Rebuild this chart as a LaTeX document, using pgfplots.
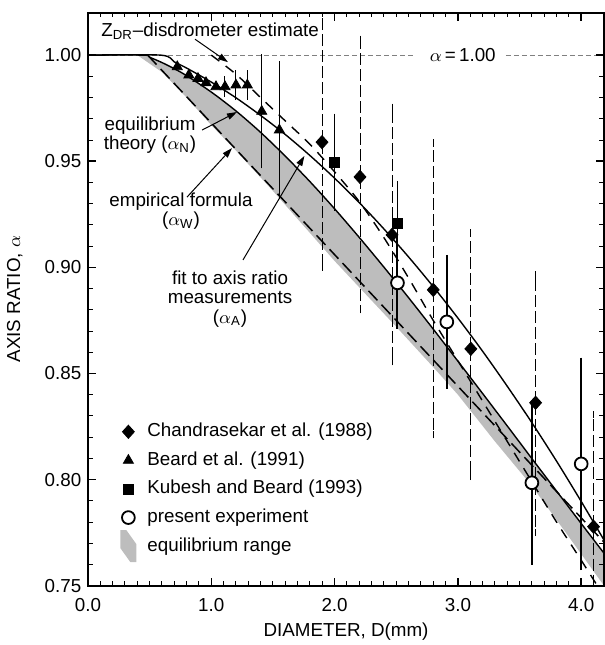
\documentclass[border=0pt]{standalone}
\usepackage{fontspec}
\setmainfont{Liberation Sans}
\usepackage{pgfplots}
\pgfplotsset{compat=1.18}
\usepgfplotslibrary{fillbetween}
\usetikzlibrary{arrows.meta}

\definecolor{bandgray}{gray}{0.74}

\begin{document}
\fontsize{9.4}{11}\selectfont
\begin{tikzpicture}
\begin{axis}[
  scale only axis, width=258pt, height=286.5pt,
  xmin=0, xmax=4.185, ymin=0.75, ymax=1.02,
  xtick={0,1,2,3,4}, minor x tick num=9,
  ytick={0.75,0.80,0.85,0.90,0.95,1.00}, minor y tick num=4,
  tick align=inside, xtick pos=both, ytick pos=both,
  major tick length=4pt, minor tick length=2.4pt,
  every tick/.style={black, line width=0.8pt},
  every minor tick/.append style={line width=0.5pt},
  axis line style={line width=1pt},
  axis on top,
  /pgf/number format/assume math mode=true,
  x tick label style={/pgf/number format/fixed, /pgf/number format/fixed zerofill,
    /pgf/number format/precision=1, yshift=-3pt},
  y tick label style={/pgf/number format/fixed, /pgf/number format/fixed zerofill,
    /pgf/number format/precision=2},
  xlabel={DIAMETER, D(mm)},
  ylabel={AXIS RATIO, $\alpha$},
  xlabel style={at={(axis description cs:0.5,-0.081)}, anchor=center},
  ylabel style={at={(axis description cs:-0.142,0.5)}, anchor=center},
  legend cell align=left,
  legend style={at={(axis description cs:0.062,0.292)}, anchor=north west,
    draw=none, fill=none, inner xsep=0pt, inner ysep=0pt,
    row sep=1.3pt,
    nodes={inner sep=2pt, text height=7pt, text depth=2pt},
    /tikz/every odd column/.append style={column sep=3.5pt}},
]
\coordinate (sw) at (rel axis cs:0,0);
\coordinate (ne) at (rel axis cs:1,1);

% equilibrium range (shaded band)
\addplot[draw=none, name path=bandup, forget plot] coordinates {
 (0.40,1.0) (0.45,1.0) (0.5,0.9990) (0.6,0.9965) (0.7,0.9936) (0.8,0.9903)
 (1.0,0.9826) (1.2,0.9737) (1.4,0.9636) (1.6,0.9524) (1.8,0.9404)
 (2.0,0.9276) (2.2,0.9141) (2.4,0.9001) (2.6,0.8857) (2.8,0.8709)
 (3.0,0.8558) (3.2,0.8406) (3.4,0.8253) (3.6,0.8099) (3.8,0.7946)
 (4.0,0.7793) (4.185,0.7653)};
\addplot[draw=none, name path=bandlo, forget plot] coordinates {
 (0.40,1.0) (0.6,0.9920) (0.8,0.9800) (1.0,0.967) (1.2,0.9550)
 (1.5,0.936) (2.0,0.903) (2.5,0.872) (2.8,0.853) (3.0,0.840)
 (3.3,0.818) (3.6,0.797) (3.9,0.773) (4.185,0.750)};
\addplot[fill=bandgray, draw=none, forget plot] fill between[of=bandup and bandlo];

% alpha = 1.00 reference line
\addplot[gray, line width=0.4pt, dash pattern=on 2.5pt off 1.5pt, forget plot]
  coordinates {(0,1) (2.66,1)};
\addplot[gray, line width=0.4pt, dash pattern=on 2.5pt off 1.5pt, forget plot]
  coordinates {(3.39,1) (4.185,1)};

% empirical formula (alpha_W)
\addplot[black, line width=0.75pt, dash pattern=on 6.5pt off 3pt, forget plot]
  coordinates {(0.484,1.0) (4.185,0.7705)};

% equilibrium theory (alpha_N)
\addplot[black, line width=0.7pt, smooth, forget plot] coordinates {
 (0,1.0) (0.45,1.0) (0.5,0.9990) (0.6,0.9965) (0.7,0.9936) (0.8,0.9903)
 (1.0,0.9826) (1.2,0.9737) (1.4,0.9636) (1.6,0.9524) (1.8,0.9404)
 (2.0,0.9276) (2.2,0.9141) (2.4,0.9001) (2.6,0.8857) (2.8,0.8709)
 (3.0,0.8558) (3.2,0.8406) (3.4,0.8253) (3.6,0.8099) (3.8,0.7946)
 (4.0,0.7793) (4.185,0.7653)};

% fit to axis ratio measurements (alpha_A)
\addplot[black, line width=0.7pt, smooth, forget plot] coordinates {
 (0,1.0) (0.59,1.0) (0.7,0.9968) (0.8,0.9939) (1.0,0.9873) (1.2,0.9799)
 (1.4,0.9716) (1.6,0.9626) (1.8,0.9527) (2.0,0.9420) (2.2,0.9305)
 (2.4,0.9181) (2.6,0.9049) (2.8,0.8909) (3.0,0.8761) (3.2,0.8605)
 (3.4,0.8440) (3.6,0.8268) (3.8,0.8087) (4.0,0.7897) (4.185,0.7715)};

% Z_DR-disdrometer estimate
\addplot[black, line width=0.7pt, dash pattern=on 5pt off 4pt, smooth, forget plot] coordinates {
 (1.0,1.0) (1.2,0.991) (1.4,0.980) (1.6,0.969) (1.8,0.958) (2.0,0.945)
 (2.2,0.931) (2.4,0.914) (2.6,0.895) (2.8,0.875) (3.0,0.856) (3.2,0.837)
 (3.4,0.818) (3.6,0.799) (3.8,0.780) (4.0,0.762) (4.185,0.745)};

% Chandrasekar et al. (1988)
\addplot[only marks, black, mark=diamond*, mark size=3.3pt, mark options={xscale=1.2},
  error bars/.cd, y dir=both, y explicit,
  error bar style={line width=0.5pt, dash pattern=on 6pt off 2pt},
  error mark options={solid, line width=0.5pt, mark size=1.8pt}]
  coordinates {
 (1.898,0.959) += (0,0.07) -= (0,0.059)
 (2.206,0.9426) += (0,0.0649) -= (0,0.0626)
 (2.466,0.9153) += (0,0.0602) -= (0,0.0598)
 (2.800,0.8894) += (0,0.0692) -= (0,0.0683)
 (3.105,0.8616) += (0,0.0547) -= (0,0.0601)
 (3.630,0.8362) += (0,0.0602) -= (0,0.0612)
 (4.100,0.7778) += (0,0.0527) -= (0,0.06)};
\addlegendentry{Chandrasekar et al. (1988)}

% Beard et al. (1991)
\addplot[only marks, black, mark=triangle*, mark size=2.9pt] coordinates {
 (0.724,0.9945) (0.818,0.9906) (0.892,0.9890) (0.957,0.9870) (1.038,0.9851)};
\addlegendentry{Beard et al. (1991)}
\addplot[only marks, black, mark=triangle*, mark size=2.9pt, forget plot,
  error bars/.cd, y dir=both, y explicit,
  error bar style={line width=0.5pt},
  error mark options={line width=0.5pt, mark size=2pt}]
  coordinates {
 (1.111,0.9851) +- (0,0.003)
 (1.200,0.9859) +- (0,0.005)
 (1.292,0.9859) +- (0,0.005)
 (1.409,0.9735) +- (0,0.025)
 (1.552,0.9647) +- (0,0.0306)};

% Kubesh and Beard (1993)
\addplot[only marks, black, mark=square*, mark size=2.5pt,
  error bars/.cd, y dir=both, y explicit,
  error bar style={line width=0.6pt},
  error mark options={line width=0.6pt, mark size=2pt}]
  coordinates {
 (1.997,0.9496) +- (0,0.021)
 (2.508,0.9209) +- (0,0.018)};
\addlegendentry{Kubesh and Beard (1993)}

% present experiment
\addplot[only marks, black, mark=*, mark size=3.2pt,
  mark options={fill=white, line width=0.9pt},
  error bars/.cd, y dir=both, y explicit,
  error bar style={line width=1pt},
  error mark options={line width=1pt, mark size=2.7pt}]
  coordinates {
 (2.51,0.8927) +- (0,0.019)
 (2.91,0.8743) +- (0,0.029)
 (3.60,0.7985) +- (0,0.036)
 (4.00,0.8074) +- (0,0.0475)};
\addlegendentry{present experiment}

\addlegendimage{legend image code/.code={
  \fill[bandgray, draw=none, overlay] (0.3cm-4pt,8pt) -- (0.3cm-1pt,8pt) -- (0.3cm+4pt,1pt)
    -- (0.3cm+4pt,-8pt) -- (0.3cm+1pt,-8pt) -- (0.3cm-4pt,-1pt) -- cycle;
  \path[draw=none, fill=none] (0.3cm-4pt,-3pt) rectangle (0.3cm+4pt,3pt);}}
\addlegendentry{equilibrium range}

% annotations
\node[anchor=base west] at (axis cs:0.055,1.0089) {Z\textsubscript{DR}--disdrometer estimate};
\draw[line width=0.5pt, -{Triangle[length=5pt,width=3.2pt]}]
  (axis cs:0.868,1.0075) -- (axis cs:1.135,0.9967);
\node[inner sep=1pt] at (axis cs:3.04,1.0) {$\alpha$\,=\,1.00};

\node[align=center, font=\fontsize{9.4}{9.6}\selectfont] at (axis cs:0.503,0.9623)
  {equilibrium\\theory ($\alpha_{\mathrm{N}}$)};
\draw[line width=0.5pt, -{Triangle[length=5pt,width=3.2pt]}]
  (axis cs:0.925,0.9647) -- (axis cs:1.208,0.9732);

\node[align=center, font=\fontsize{9.4}{9.6}\selectfont] at (axis cs:0.754,0.9266)
  {empirical formula\\($\alpha_{\mathrm{W}}$)};
\draw[line width=0.5pt, -{Triangle[length=5pt,width=3.2pt]}]
  (axis cs:0.803,0.9331) -- (axis cs:1.168,0.9562);

\node[align=center, font=\fontsize{9.4}{9.6}\selectfont] at (axis cs:1.152,0.8851)
  {fit to axis ratio\\measurements\\($\alpha_{\mathrm{A}}$)};
\draw[line width=0.5pt, -{Triangle[length=5pt,width=3.2pt]}]
  (axis cs:1.257,0.9035) -- (axis cs:1.755,0.9525);
\end{axis}
\path (sw) ++(-44pt,-29.65pt) coordinate (bbA);
\path (ne) ++(0pt,6.35pt) coordinate (bbB);
\pgfresetboundingbox
\useasboundingbox (bbA) rectangle (bbB);
\end{tikzpicture}
\end{document}
